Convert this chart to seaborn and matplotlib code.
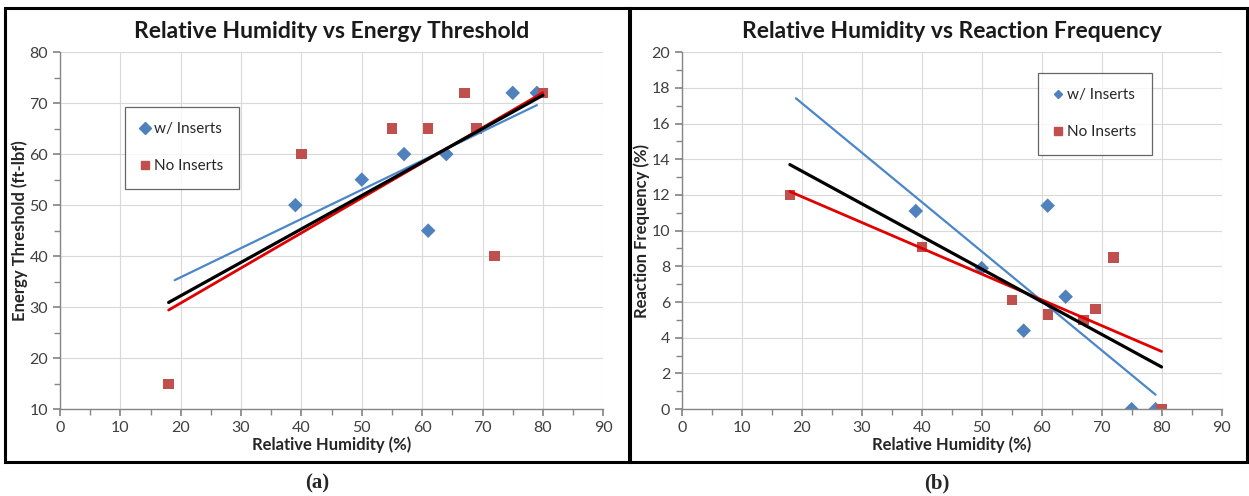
# Relative humidity vs energy threshold / reaction frequency, two panels
import numpy as np
import pandas as pd
import matplotlib
matplotlib.use("Agg")
import matplotlib.pyplot as plt
from matplotlib.patches import Rectangle
from matplotlib.ticker import MultipleLocator
import seaborn as sns

sns.set_theme(style="white")
plt.rcParams["font.family"] = ["Lato", "DejaVu Sans"]

# --- data ---
rh_inserts = [39, 50, 57, 61, 64, 75, 79]
energy_inserts = [50, 55, 60, 45, 60, 72, 72]
freq_inserts = [11.1, 7.9, 4.4, 11.4, 6.3, 0, 0]

rh_no_inserts = [18, 40, 55, 61, 67, 69, 72, 80]
energy_no_inserts = [15, 60, 65, 65, 72, 65, 40, 72]
freq_no_inserts = [12.0, 9.1, 6.1, 5.3, 5.0, 5.6, 8.5, 0]

# x span each trendline is drawn over
fit_span = {"w/ Inserts": (19, 79), "No Inserts": (18, 80), "All": (18, 80)}

BLUE = "#4F81BD"
RED = "#C0504D"
LINE_COLORS = {"w/ Inserts": "#4A86C8", "No Inserts": "#E00000", "All": "black"}
LINE_WIDTHS = {"w/ Inserts": 1.6, "No Inserts": 2.0, "All": 2.3}

df = pd.concat([
    pd.DataFrame({"rh": rh_inserts, "energy": energy_inserts,
                  "freq": freq_inserts, "group": "w/ Inserts"}),
    pd.DataFrame({"rh": rh_no_inserts, "energy": energy_no_inserts,
                  "freq": freq_no_inserts, "group": "No Inserts"}),
], ignore_index=True)


def trend(sub, col, name):
    k, b = np.polyfit(sub["rh"], sub[col], 1)
    xs = np.array(fit_span[name], dtype=float)
    return pd.DataFrame({"rh": xs, col: k * xs + b})


def make_panel(ax, col, ylim, ymajor, yminor, title, ylabel, leg_anchor, blue_ms):
    for name in ["w/ Inserts", "No Inserts", "All"]:
        sub = df if name == "All" else df[df["group"] == name]
        sns.lineplot(data=trend(sub, col, name), x="rh", y=col, ax=ax,
                     color=LINE_COLORS[name], lw=LINE_WIDTHS[name], zorder=3)
    sns.scatterplot(data=df, x="rh", y=col, hue="group", style="group",
                    palette={"w/ Inserts": BLUE, "No Inserts": RED},
                    markers={"w/ Inserts": "D", "No Inserts": "s"},
                    s=55, edgecolor="none", ax=ax, zorder=2, legend=False)

    ax.set_xlim(0, 90)
    ax.set_ylim(*ylim)
    ax.xaxis.set_major_locator(MultipleLocator(10))
    ax.xaxis.set_minor_locator(MultipleLocator(5))
    ax.yaxis.set_major_locator(MultipleLocator(ymajor))
    ax.yaxis.set_minor_locator(MultipleLocator(yminor))
    ax.grid(True, which="major", color="#D9D9D9", lw=0.8)
    ax.set_axisbelow(True)
    for s in ["top", "right"]:
        ax.spines[s].set_visible(False)
    for s in ["left", "bottom"]:
        ax.spines[s].set_color("#868686")
        ax.spines[s].set_linewidth(1.0)
    ax.tick_params(which="both", direction="out", color="#868686",
                   left=True, bottom=True, labelsize=11.5, labelcolor="#404040")
    ax.tick_params(which="major", length=5)
    ax.tick_params(which="minor", length=4)

    ax.set_title(title, fontsize=16.5, fontweight="bold", pad=10, color="#1a1a1a")
    ax.set_xlabel("Relative Humidity (%)", fontsize=12, fontweight="bold",
                  color="#262626", labelpad=1)
    ax.set_ylabel(ylabel, fontsize=12, fontweight="bold", color="#262626",
                  labelpad=1)

    handles = [
        plt.Line2D([], [], ls="none", marker="D", ms=blue_ms, color=BLUE),
        plt.Line2D([], [], ls="none", marker="s", ms=6, color=RED),
    ]
    leg = ax.legend(handles, ["w/ Inserts", "No Inserts"], loc="upper left",
                    bbox_to_anchor=leg_anchor, frameon=True, fancybox=False,
                    fontsize=11, labelspacing=1.5, handlelength=0.6,
                    handletextpad=0.3, borderpad=1.0, borderaxespad=0)
    leg.get_frame().set_edgecolor("#404040")
    leg.get_frame().set_linewidth(0.9)


fig = plt.figure(figsize=(12.49, 4.96), dpi=100)
ax_a = fig.add_axes([0.048, 0.175, 0.435, 0.72])
ax_b = fig.add_axes([0.546, 0.175, 0.432, 0.72])

make_panel(ax_a, "energy", (10, 80), 10, 5,
           "Relative Humidity vs Energy Threshold", "Energy Threshold (ft-lbf)",
           (0.12, 0.846), 6)
make_panel(ax_b, "freq", (0, 20), 2, 1,
           "Relative Humidity vs Reaction Frequency", "Reaction Frequency (%)",
           (0.66, 0.941), 4)

# panel frames
for x0, x1 in [(5, 629), (630, 1247)]:
    fig.patches.append(Rectangle((x0 / 1249, 1 - 462 / 496), (x1 - x0) / 1249,
                                 (462 - 8) / 496, transform=fig.transFigure,
                                 fill=False, ec="black", lw=2.2))

for label, xc in [("(a)", 317 / 1249), ("(b)", 937 / 1249)]:
    fig.text(xc, 1 - 483 / 496, label, ha="center", va="center", fontsize=15,
             fontweight="bold", family=["Liberation Serif", "DejaVu Serif"])

fig.savefig("out.png", dpi=100)
